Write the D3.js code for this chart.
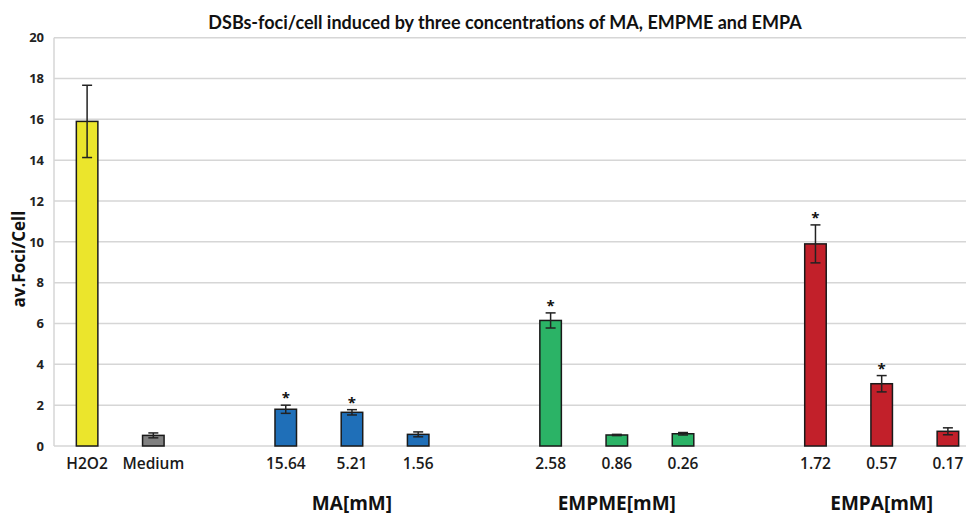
<!DOCTYPE html>
<html>
<head>
<meta charset="utf-8">
<script src="https://cdn.jsdelivr.net/npm/d3@7"></script>
<style>
  html, body { margin: 0; padding: 0; background: #fff; }
  svg { display: block; }
</style>
</head>
<body>
<svg id="chart" width="966" height="516"></svg>
<script>
// Slots along the x axis; empty strings are spacer slots between groups
const categories = ["H2O2", "Medium", "", "15.64", "5.21", "1.56", "", "2.58", "0.86", "0.26", "", "1.72", "0.57", "0.17"];
const groupOf    = ["h2o2", "medium", null, "MA", "MA", "MA", null, "EMPME", "EMPME", "EMPME", null, "EMPA", "EMPA", "EMPA"];
const values     = [15.9, 0.52, null, 1.8, 1.65, 0.57, null, 6.15, 0.54, 0.6, null, 9.9, 3.05, 0.72];
const errors     = [1.77, 0.12, null, 0.2, 0.13, 0.12, null, 0.37, 0.03, 0.06, null, 0.93, 0.4, 0.17];
const significant = [false, false, false, true, true, false, false, true, false, false, false, true, true, false];
const groupLabels = [
  { text: "MA[mM]", slot: 4 },
  { text: "EMPME[mM]", slot: 8 },
  { text: "EMPA[mM]", slot: 12 }
];
const yTicks = [0, 2, 4, 6, 8, 10, 12, 14, 16, 18, 20];
const colors = {
  h2o2: "#ebe52c",
  medium: "#808080",
  MA: "#1f6fb8",
  EMPME: "#2bb366",
  EMPA: "#c2202a"
};

const svg = d3.select("#chart");
const plot = { left: 54, right: 981, top: 37.7, bottom: 446 };

const x = d3.scaleBand()
  .domain(d3.range(categories.length))
  .range([plot.left, plot.right])
  .paddingInner(0.675)
  .paddingOuter(0.3375);

const y = d3.scaleLinear().domain([0, 20]).range([plot.bottom, plot.top]);

// Horizontal gridlines
svg.append("g")
  .selectAll("line")
  .data(yTicks)
  .join("line")
  .attr("x1", plot.left)
  .attr("x2", plot.right)
  .attr("y1", d => y(d))
  .attr("y2", d => y(d))
  .attr("stroke", "#d6d6d6")
  .attr("stroke-width", 1.5);

// Vertical axis line
svg.append("line")
  .attr("x1", plot.left).attr("x2", plot.left)
  .attr("y1", plot.top).attr("y2", plot.bottom)
  .attr("stroke", "#d6d6d6")
  .attr("stroke-width", 1.5);

// Y axis tick labels
const yAxis = d3.axisLeft(y).tickValues(yTicks).tickSize(0).tickPadding(10);
const yg = svg.append("g").attr("transform", `translate(${plot.left},0)`).call(yAxis);
yg.select(".domain").remove();
yg.selectAll("text")
  .attr("font-family", "'Open Sans', sans-serif")
  .attr("font-size", 13)
  .attr("font-weight", 700)
  .attr("fill", "#222");

// X axis tick labels
const xAxis = d3.axisBottom(x).tickFormat(i => categories[i]).tickSize(0).tickPadding(12);
const xg = svg.append("g").attr("transform", `translate(0,${plot.bottom})`).call(xAxis);
xg.select(".domain").remove();
xg.selectAll("text")
  .attr("font-family", "'Open Sans', sans-serif")
  .attr("font-size", 15.5)
  .attr("font-weight", 600)
  .attr("fill", "#1a1a1a");

// Bars
const rows = categories.map((c, i) => ({ i, c, v: values[i], e: errors[i], g: groupOf[i], sig: significant[i] }))
  .filter(d => d.v !== null);

svg.append("g")
  .selectAll("rect")
  .data(rows)
  .join("rect")
  .attr("x", d => x(d.i))
  .attr("width", x.bandwidth())
  .attr("y", d => y(d.v))
  .attr("height", d => y(0) - y(d.v))
  .attr("fill", d => colors[d.g])
  .attr("stroke", "#1a1a1a")
  .attr("stroke-width", 1.5);

// Error bars
const capHalf = 5;
const eb = svg.append("g")
  .attr("stroke", "#222")
  .attr("stroke-width", 1.5)
  .selectAll("g")
  .data(rows)
  .join("g")
  .attr("transform", d => `translate(${x(d.i) + x.bandwidth() / 2},0)`);
eb.append("line")
  .attr("y1", d => y(d.v - d.e)).attr("y2", d => y(d.v + d.e));
eb.append("line")
  .attr("x1", -capHalf).attr("x2", capHalf)
  .attr("y1", d => y(d.v + d.e)).attr("y2", d => y(d.v + d.e));
eb.append("line")
  .attr("x1", -capHalf).attr("x2", capHalf)
  .attr("y1", d => y(d.v - d.e)).attr("y2", d => y(d.v - d.e));

// Significance markers
svg.append("g")
  .selectAll("text")
  .data(rows.filter(d => d.sig))
  .join("text")
  .attr("x", d => x(d.i) + x.bandwidth() / 2)
  .attr("y", d => y(d.v + d.e) - 2)
  .attr("text-anchor", "middle")
  .attr("font-family", "'Open Sans', sans-serif")
  .attr("font-size", 15)
  .attr("font-weight", 700)
  .attr("fill", "#111")
  .text("*");

// Group labels under the concentration ticks
svg.append("g")
  .selectAll("text")
  .data(groupLabels)
  .join("text")
  .attr("x", d => x(d.slot) + x.bandwidth() / 2)
  .attr("y", 510)
  .attr("text-anchor", "middle")
  .attr("font-family", "'Open Sans', sans-serif")
  .attr("font-size", 19)
  .attr("font-weight", 700)
  .attr("fill", "#111")
  .text(d => d.text);

// Y axis title
svg.append("text")
  .attr("transform", "translate(25,259) rotate(-90)")
  .attr("text-anchor", "middle")
  .attr("font-family", "'Open Sans', sans-serif")
  .attr("font-size", 17)
  .attr("font-weight", 700)
  .attr("fill", "#111")
  .text("av.Foci/Cell");

// Chart title
svg.append("text")
  .attr("x", 505)
  .attr("y", 29.3)
  .attr("text-anchor", "middle")
  .attr("font-family", "Lato, sans-serif")
  .attr("font-size", 18)
  .attr("font-weight", 700)
  .attr("fill", "#111")
  .text("DSBs-foci/cell induced by three concentrations of MA, EMPME and EMPA");
</script>
</body>
</html>
